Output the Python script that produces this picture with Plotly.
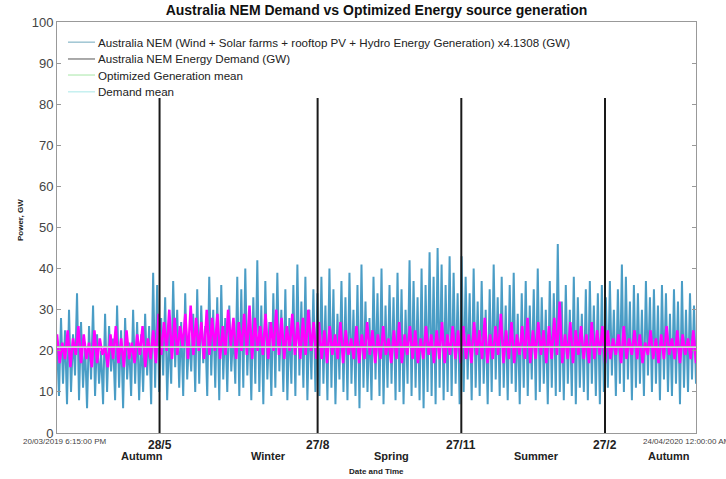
import numpy as np
import pandas as pd
import plotly.graph_objects as go

# ---------------- data ----------------
start_time = "2019-03-20 18:15:00"
end_time = "2020-04-24 00:00:00"

# generation (GW): alternating peaks and troughs, roughly every 2.5 days
gen_high = [22, 28, 25, 30, 24, 34, 27, 22, 26, 31, 24, 20, 29, 26, 23, 31, 25, 28, 22, 30, 27, 24, 29, 26, 39,
            36, 28, 33, 25, 37, 30, 27, 34, 24, 29, 35, 31, 26, 38, 30, 33, 36, 28, 31, 25, 38, 35, 40, 29, 33,
            42, 31, 37, 27, 34, 39, 30, 35, 28, 36, 41, 32, 38, 30, 35,
            34, 38, 31, 40, 35, 29, 37, 33, 39, 30, 36, 41, 32, 28, 38, 34, 40, 31, 36, 33, 39, 35, 30, 42, 37,
            33, 40, 36, 44, 38, 45, 41, 36, 43, 39, 34,
            43, 38, 34, 40, 32, 37, 30, 35, 41, 33, 38, 31, 36, 39, 29, 34, 37, 31, 35, 40, 33, 30, 37, 34, 46,
            32, 36, 30, 38, 33, 29, 35, 37, 31, 34, 36,
            33, 37, 30, 35, 41, 38, 32, 36, 34, 30, 37, 33, 35, 31, 36, 34, 29, 35, 32, 37, 30, 34, 31]
gen_low = [9, 12, 7, 10, 14, 8, 11, 6, 13, 9, 12, 7, 10, 15, 8, 11, 6, 13, 9, 12, 8, 10, 14, 7, 11,
           10, 14, 8, 12, 16, 11, 9, 13, 15, 10, 12, 17, 9, 14, 11, 8, 13, 10, 15, 12, 9, 11, 14, 8, 12,
           10, 7, 13, 9, 11, 15, 10, 8, 12, 9, 14, 11, 8, 13, 10,
           9, 12, 8, 11, 7, 13, 10, 8, 12, 9, 6, 11, 10, 8, 13, 9, 7, 11, 12, 8, 10, 7, 12, 9, 11,
           8, 6, 10, 9, 7, 11, 8, 10, 9, 12, 7,
           10, 13, 8, 11, 9, 12, 7, 10, 13, 9, 11, 8, 12, 10, 7, 11, 9, 13, 8, 10, 12, 7, 11, 9, 10,
           8, 12, 9, 7, 11, 10, 8, 12, 9, 7, 10,
           11, 14, 9, 12, 10, 13, 8, 11, 12, 9, 14, 10, 12, 8, 13, 10, 9, 12, 7, 11, 10, 13, 12]

# demand (GW): alternating peaks and troughs
dem_high = [24, 22, 25, 23, 26, 24, 22, 25, 23, 21, 24, 26, 23, 25, 22, 24, 26, 23, 25,
            29, 27, 30, 28, 26, 29, 31, 28, 27, 30, 28, 29, 26, 30, 28, 27, 29, 31, 28, 26,
            29, 27, 30, 28, 26, 29, 27, 28, 30, 27,
            27, 25, 26, 24, 27, 25, 23, 26, 24, 27, 25, 24, 26, 23, 25, 27, 24, 26, 25, 23,
            26, 24, 25, 27, 24, 26, 25,
            26, 24, 27, 25, 28, 24, 26, 29, 25, 27, 24, 26, 28, 25, 27, 25, 26, 28, 32, 24,
            27, 25, 26, 24, 27, 25, 26,
            25, 23, 24, 26, 23, 25, 24, 22, 25, 23, 24, 26, 23, 25, 24, 23, 25]
dem_low = [17, 18, 16, 19, 17, 18, 16, 17, 19, 16, 18, 17, 16, 18, 17, 19, 16, 18, 17,
           19, 20, 18, 19, 21, 18, 19, 20, 18, 19, 20, 18, 19, 21, 18, 20, 19, 18, 20, 19,
           18, 20, 19, 18, 20, 19, 18, 19, 20, 18,
           18, 17, 19, 18, 17, 19, 18, 17, 18, 19, 17, 18, 19, 17, 18, 17, 19, 18, 17, 18,
           19, 17, 18, 17, 19, 18, 17,
           18, 17, 19, 18, 17, 18, 19, 17, 18, 17, 19, 18, 17, 18, 19, 17, 18, 19, 17, 18,
           17, 19, 18, 17, 18, 19, 17,
           18, 19, 17, 18, 19, 18, 17, 19, 18, 17, 18, 19, 18, 17, 19, 18, 17]

gen_mean = 21.0
demand_mean = 20.8

mark_dates = ["2019-05-24", "2019-08-31", "2019-11-29", "2020-02-27"]
mark_labels = ["28/5", "27/8", "27/11", "27/2"]
season_dates = ["2019-05-13", "2019-07-31", "2019-10-16", "2020-01-15", "2020-04-07"]
season_labels = ["Autumn", "Winter", "Spring", "Summer", "Autumn"]
end_labels = ["20/03/2019 6:15:00 PM", "24/04/2020 12:00:00 AM"]

legend_names = ["Australia NEM (Wind + Solar farms + rooftop PV + Hydro Energy Generation) x4.1308 (GW)",
                "Australia NEM Energy Demand (GW)",
                "Optimized Generation mean",
                "Demand mean"]
legend_colors = ["#6fa8bd", "#555555", "#a6e6a6", "#a8e8e8"]

# ---------------- build series ----------------
def interleave(hi, lo):
    out = []
    for h, l in zip(hi, lo):
        out.extend([h, l])
    return out

gen_y = interleave(gen_high, gen_low)
dem_y = interleave(dem_high, dem_low)
gen_x = pd.date_range(start_time, end_time, periods=len(gen_y))
dem_x = pd.date_range(start_time, end_time, periods=len(dem_y))

FONT = "Liberation Sans"
fig = go.Figure()

fig.add_trace(go.Scatter(x=gen_x, y=gen_y, mode="lines", line=dict(color="#4a9dc6", width=2),
                         name=legend_names[0], hoverinfo="skip"))
fig.add_trace(go.Scatter(x=dem_x, y=dem_y, mode="lines", line=dict(color="#ff00ff", width=2.5),
                         name=legend_names[1], hoverinfo="skip"))
fig.add_trace(go.Scatter(x=[start_time, end_time], y=[gen_mean, gen_mean], mode="lines",
                         name=legend_names[2], line=dict(color="#a6e6a6", width=1)))
fig.add_trace(go.Scatter(x=[start_time, end_time], y=[demand_mean, demand_mean], mode="lines",
                         name=legend_names[3], line=dict(color="#e6c8f2", width=1)))

shapes = []
for d in mark_dates:
    shapes.append(dict(type="line", xref="x", yref="y", x0=d, x1=d, y0=0, y1=81.5,
                       line=dict(color="#1a1a1a", width=2), layer="above"))

annotations = []
# legend drawn as sample lines + texts (tight row spacing as in the reference)
legend_rows = [0.951, 0.910, 0.871, 0.830]
for name, col, yr in zip(legend_names, legend_colors, legend_rows):
    shapes.append(dict(type="line", xref="paper", yref="paper", x0=0.0172, x1=0.0595, y0=yr, y1=yr,
                       line=dict(color=col, width=1)))
    annotations.append(dict(x=0.061, xref="paper", y=yr, yref="paper", text=name, showarrow=False,
                            xanchor="left", yanchor="middle",
                            font=dict(family=FONT, size=11.6, color="#222")))

for d, lab in zip(mark_dates, mark_labels):
    annotations.append(dict(x=d, xref="x", y=-0.03, yref="paper", text="<b>%s</b>" % lab,
                            showarrow=False, yanchor="middle",
                            font=dict(family=FONT, size=12, color="#222")))
for d, lab in zip(season_dates, season_labels):
    annotations.append(dict(x=d, xref="x", y=-0.055, yref="paper", text="<b>%s</b>" % lab,
                            showarrow=False, yanchor="middle",
                            font=dict(family=FONT, size=11, color="#222")))
annotations.append(dict(x=0.0125, xref="paper", y=-0.02, yref="paper", text=end_labels[0],
                        showarrow=False, xanchor="center", yanchor="middle",
                        font=dict(family=FONT, size=8, color="#444")))
annotations.append(dict(x=0.914, xref="paper", y=-0.02, yref="paper", text=end_labels[1],
                        showarrow=False, xanchor="left", yanchor="middle",
                        font=dict(family=FONT, size=8, color="#444")))
annotations.append(dict(x=0.5, xref="paper", y=-0.093, yref="paper", text="<b>Date and Time</b>",
                        showarrow=False, yanchor="middle", font=dict(family=FONT, size=8, color="#222")))
annotations.append(dict(x=-0.058, xref="paper", y=0.518, yref="paper", text="<b>Power, GW</b>",
                        showarrow=False, textangle=-90, xanchor="center", yanchor="middle",
                        font=dict(family=FONT, size=8, color="#222")))

fig.update_layout(
    width=726, height=479,
    margin=dict(l=57, r=30, t=22, b=46),
    paper_bgcolor="white", plot_bgcolor="white",
    showlegend=False,
    title=dict(text="<b>Australia NEM Demand vs Optimized Energy source generation</b>",
               x=0.5, xref="paper", xanchor="center", y=1 - 10.5 / 479, yanchor="middle",
               font=dict(family=FONT, size=14, color="#111")),
    xaxis=dict(type="date", range=[start_time, end_time], showgrid=False, zeroline=False,
               showline=True, linecolor="#999", mirror=True, linewidth=1,
               showticklabels=False, ticks="", automargin=False),
    yaxis=dict(range=[0, 100], dtick=10, showgrid=False, zeroline=False,
               showline=True, linecolor="#999", mirror="ticks", linewidth=1,
               ticks="inside", ticklen=4, tickcolor="#999", automargin=False,
               tickfont=dict(family=FONT, size=13, color="#444")),
    shapes=shapes, annotations=annotations,
)

# remove the default page margin so the figure sits at the window's top-left corner
fig.write_html("out.html", config={"displayModeBar": False},
               post_script="document.body.style.margin='0';")
